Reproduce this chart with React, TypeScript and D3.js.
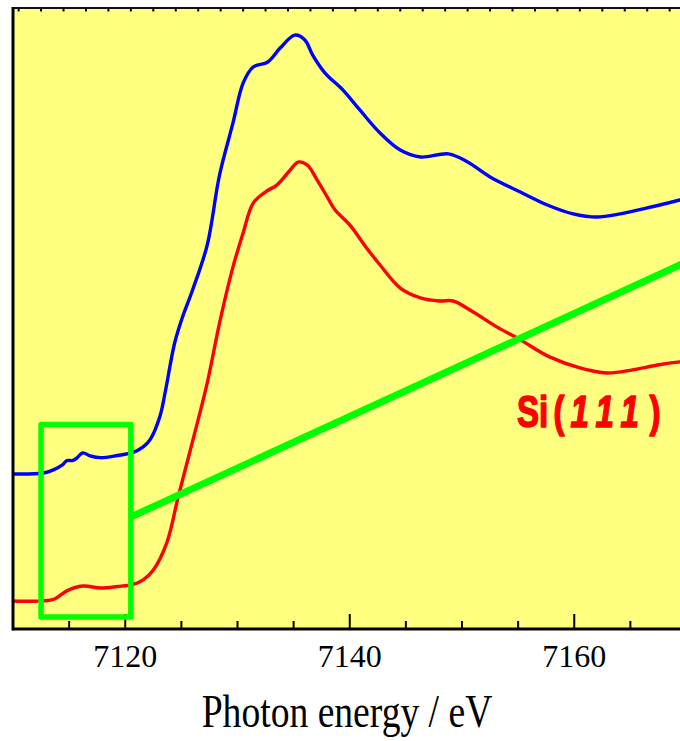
import React from "react";
import * as d3 from "d3";

// Fe K-edge XANES spectra (two samples, offset vertically)
const redEnergy = [7110.0, 7112.7, 7113.7, 7114.8, 7116.2, 7117.8, 7119.3, 7120.7, 7121.6, 7122.5, 7123.7, 7124.7, 7125.8, 7127.3, 7128.4, 7129.6, 7130.5, 7131.4, 7132.6, 7133.5, 7134.7, 7135.4, 7136.2, 7137.1, 7138.0, 7138.7, 7140.0, 7141.5, 7142.7, 7144.5, 7146.3, 7148.0, 7149.2, 7151.0, 7153.1, 7155.2, 7157.8, 7160.5, 7162.9, 7165.2, 7167.4, 7169.4, 7170.0];
const redAbs = [0, 0, 0.008, 0.042, 0.062, 0.054, 0.06, 0.069, 0.088, 0.129, 0.242, 0.43, 0.629, 0.908, 1.158, 1.392, 1.533, 1.658, 1.708, 1.733, 1.796, 1.829, 1.817, 1.754, 1.683, 1.629, 1.567, 1.471, 1.4, 1.304, 1.263, 1.25, 1.25, 1.204, 1.142, 1.088, 1.017, 0.971, 0.95, 0.963, 0.983, 0.996, 0.998];

const blueEnergy = [7110.0, 7112.7, 7113.6, 7114.4, 7114.8, 7115.3, 7115.7, 7116.2, 7116.9, 7117.8, 7119.3, 7120.7, 7121.6, 7122.2, 7123.1, 7123.6, 7124.4, 7125.1, 7126.0, 7127.3, 7128.4, 7129.6, 7130.5, 7131.4, 7132.7, 7133.8, 7135.1, 7136.0, 7136.7, 7137.8, 7139.4, 7140.9, 7142.7, 7144.5, 7146.3, 7148.8, 7150.5, 7152.5, 7155.2, 7157.6, 7159.9, 7162.0, 7164.1, 7166.5, 7169.4, 7170.0];
const blueAbs = [0.529, 0.533, 0.546, 0.567, 0.585, 0.585, 0.596, 0.617, 0.604, 0.597, 0.606, 0.619, 0.642, 0.671, 0.771, 0.88, 1.075, 1.183, 1.296, 1.483, 1.775, 1.992, 2.158, 2.225, 2.246, 2.304, 2.358, 2.338, 2.275, 2.2, 2.129, 2.046, 1.95, 1.879, 1.85, 1.863, 1.829, 1.767, 1.704, 1.65, 1.613, 1.6, 1.613, 1.638, 1.671, 1.68];

// pre-edge highlight box and its leader line
const boxEnergy = [7112.5, 7120.5];
const boxAbs = [-0.067, 0.735];
const leaderEnergy = [7120.5, 7170];
const leaderAbs = [0.35, 1.413];

const majorTicks = [7120, 7140, 7160];
const minorTicks = [7115, 7125, 7130, 7135, 7145, 7150, 7155, 7165];
const topTicks = d3.range(7110.5, 7170, 2);

const W = 680;
const H = 741;
const left = 13;
const top = 8;
const bottom = 629;

export default function App() {
  const x = d3.scaleLinear().domain([7110, 7170]).range([left, left + 60 * 11.225]);
  const y = d3.scaleLinear().domain([-0.117, 2.471]).range([bottom, top]);

  const line = d3
    .line<[number, number]>()
    .x((d) => x(d[0]))
    .y((d) => y(d[1]))
    .curve(d3.curveCatmullRom.alpha(0.5));

  const red = line(redEnergy.map((e, i) => [e, redAbs[i]]));
  const blue = line(blueEnergy.map((e, i) => [e, blueAbs[i]]));

  return (
    <svg
      width={W}
      height={H}
      style={{ position: "absolute", left: 0, top: 0, background: "#fff" }}
    >
      <defs>
        <clipPath id="plot">
          <rect x={left} y={top} width={W - left} height={bottom - top} />
        </clipPath>
      </defs>
      <rect x={left} y={top} width={W - left} height={bottom - top} fill="#ffff80" />

      {/* bottom axis ticks, pointing inward */}
      {majorTicks.map((t) => (
        <line key={"M" + t} x1={x(t)} x2={x(t)} y1={bottom} y2={bottom - 15} stroke="#000" strokeWidth={2} />
      ))}
      {minorTicks.map((t) => (
        <line key={"m" + t} x1={x(t)} x2={x(t)} y1={bottom} y2={bottom - 8} stroke="#000" strokeWidth={2} />
      ))}
      {topTicks.map((t) => (
        <line key={"t" + t} x1={x(t)} x2={x(t)} y1={top} y2={top + 3.5} stroke="#000" strokeWidth={2} />
      ))}

      <g clipPath="url(#plot)" fill="none" strokeLinejoin="round">
        <path d={blue ?? ""} stroke="#0000ff" strokeWidth={3.4} />
        <path d={red ?? ""} stroke="#ff0000" strokeWidth={3.4} />
        <line
          x1={x(leaderEnergy[0])}
          y1={y(leaderAbs[0])}
          x2={x(leaderEnergy[1])}
          y2={y(leaderAbs[1])}
          stroke="#00ff00"
          strokeWidth={7}
        />
        <rect
          x={x(boxEnergy[0])}
          y={y(boxAbs[1])}
          width={x(boxEnergy[1]) - x(boxEnergy[0])}
          height={y(boxAbs[0]) - y(boxAbs[1])}
          stroke="#00ff00"
          strokeWidth={5.5}
        />
      </g>

      {/* frame */}
      <line x1={left} x2={W} y1={top} y2={top} stroke="#111" strokeWidth={2} />
      <line x1={left} x2={W} y1={bottom} y2={bottom} stroke="#000" strokeWidth={3} />
      <line x1={left} x2={left} y1={top - 1} y2={bottom + 1.5} stroke="#000" strokeWidth={3} />

      {/* tick labels */}
      {majorTicks.map((t) => (
        <text
          key={"l" + t}
          x={x(t)}
          y={667}
          textAnchor="middle"
          fontFamily="'Liberation Serif', 'Times New Roman', serif"
          fontSize={32}
          fill="#000"
        >
          {t}
        </text>
      ))}

      <text
        transform="translate(347,727) scale(0.8,1)"
        textAnchor="middle"
        fontFamily="'Liberation Serif', 'Times New Roman', serif"
        fontSize={47}
        fill="#000"
      >
        Photon energy / eV
      </text>

      <g transform="translate(517,427) scale(0.75,1)">
        <text
          fontFamily="'Liberation Sans', Arial, sans-serif"
          fontWeight="bold"
          fontSize={44}
          fill="#ff0000"
          stroke="#ff0000"
          strokeWidth={1.6}
          strokeLinejoin="round"
        >
          <tspan>Si</tspan>
          <tspan dx={7}>(</tspan>
          <tspan dx={8} fontStyle="italic">1</tspan>
          <tspan dx={9} fontStyle="italic">1</tspan>
          <tspan dx={9} fontStyle="italic">1</tspan>
          <tspan dx={14}>)</tspan>
        </text>
      </g>
    </svg>
  );
}
